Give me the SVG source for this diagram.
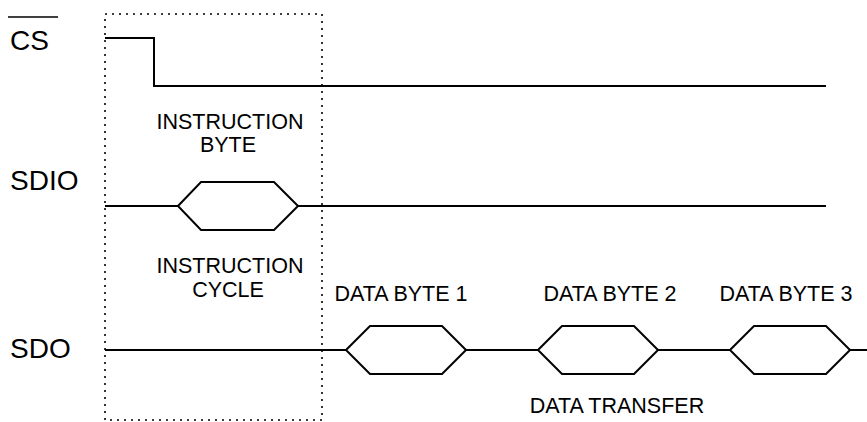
<svg xmlns="http://www.w3.org/2000/svg" width="867" height="422" viewBox="0 0 867 422">
<style>
.sig{fill:none;stroke:#000;stroke-width:2;stroke-linejoin:miter}
.dot{fill:none;stroke:#000;stroke-width:1.6;stroke-dasharray:2 5}
.name{font-family:"Liberation Sans",Arial,sans-serif;font-size:28px;fill:#000}
.lbl{font-family:"Liberation Sans",Arial,sans-serif;font-size:21.5px;fill:#000;text-anchor:middle}
</style>
<rect width="867" height="422" fill="#fff"/>
<g id="instruction-window">
<rect class="dot" x="105" y="14" width="217" height="406"/>
</g>
<g id="cs">
<text class="name" x="10" y="50">CS</text>
<line x1="8" y1="17" x2="58" y2="17" stroke="#000" stroke-width="1.6"/>
</g>
<g id="sdio">
<text class="name" x="10" y="190">SDIO</text>
</g>
<g id="sdo">
<text class="name" x="10" y="358">SDO</text>
</g>
<g id="instruction-byte">
<polygon class="sig" points="178,206 201,182 274,182 298,206 274,230 201,230"/>
<text class="lbl" x="230" y="129">INSTRUCTION</text>
<text class="lbl" x="228" y="152">BYTE</text>
</g>
<g id="instruction-cycle">
<text class="lbl" x="230" y="273">INSTRUCTION</text>
<text class="lbl" x="228" y="297">CYCLE</text>
</g>
<g id="data-byte-1">
<polygon class="sig" points="346,350 370,326 442,326 466,350 442,374 370,374"/>
<text class="lbl" x="401" y="301">DATA BYTE 1</text>
</g>
<g id="data-byte-2">
<polygon class="sig" points="538,350 562,326 634,326 658,350 634,374 562,374"/>
<text class="lbl" x="610" y="301">DATA BYTE 2</text>
</g>
<g id="data-byte-3">
<polygon class="sig" points="730,350 754,326 826,326 850,350 826,374 754,374"/>
<text class="lbl" x="786" y="301">DATA BYTE 3</text>
</g>
<g id="data-transfer">
<text class="lbl" x="617" y="413">DATA TRANSFER</text>
</g>
<g id="connectors">
<path class="sig" d="M105,38 H154 V86 H826"/>
<path class="sig" d="M105,206 H178 M298,206 H826"/>
<path class="sig" d="M105,350 H346 M466,350 H538 M658,350 H730 M850,350 H867"/>
</g>
</svg>
